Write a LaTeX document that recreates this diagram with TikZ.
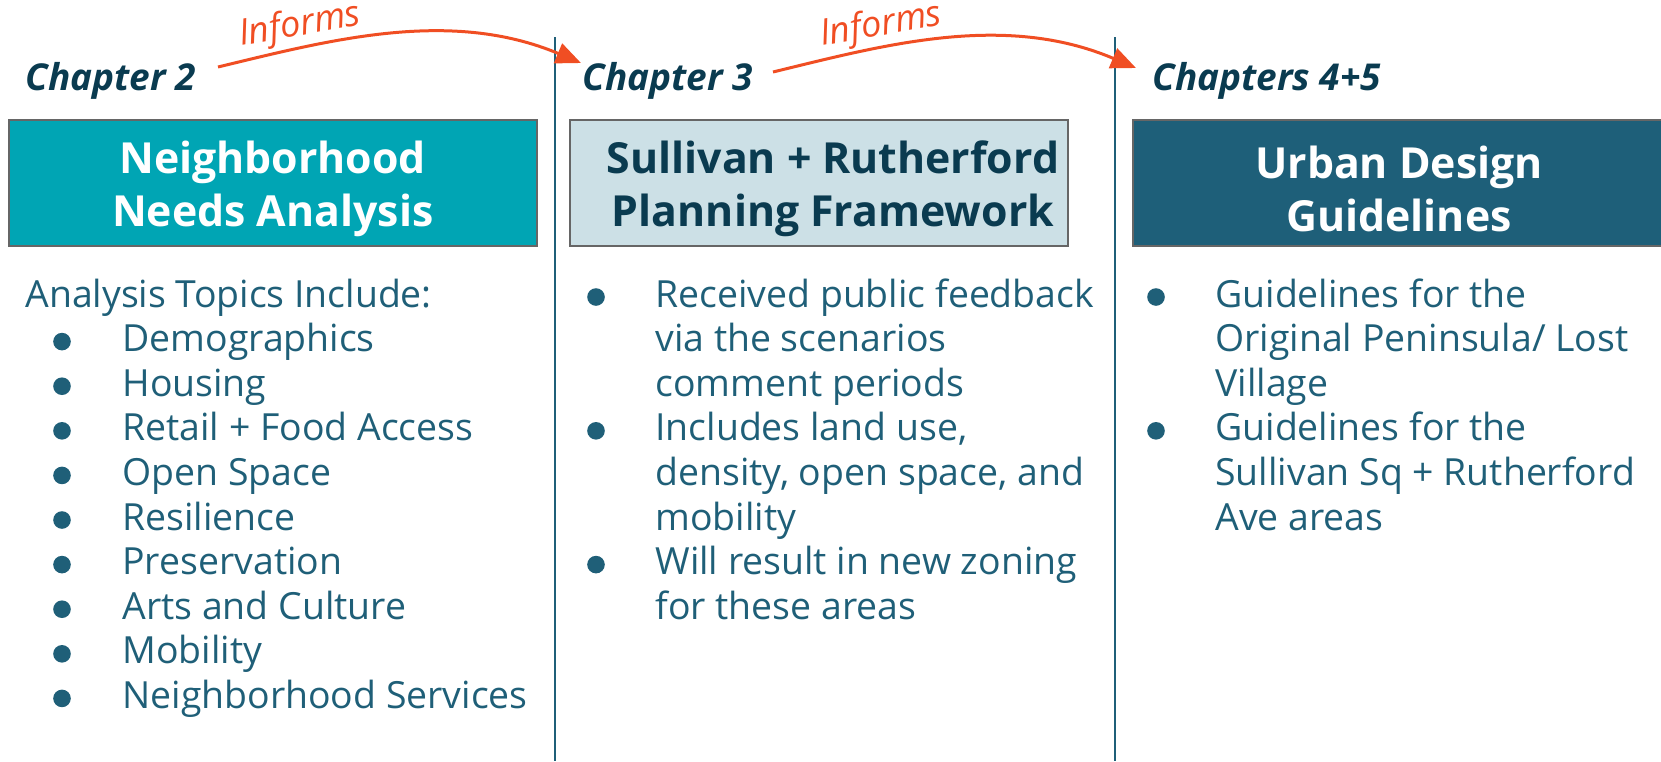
\documentclass[tikz,border=0pt]{standalone}
\usepackage{fontspec}
\setmainfont{Open Sans}
\usepackage{tikz}
\usetikzlibrary{arrows.meta}
\definecolor{needsfill}{HTML}{00A5B4}
\definecolor{frameworkfill}{HTML}{CCE0E6}
\definecolor{guidefill}{HTML}{1E5F79}
\definecolor{headcol}{HTML}{0A3B50}
\definecolor{bodycol}{HTML}{1F5F78}
\definecolor{informcol}{HTML}{F04E23}
\definecolor{boxedge}{HTML}{666666}

\begin{document}
\begin{tikzpicture}[x=0.5pt,y=-0.5pt,
	chapterhead/.style={anchor=base west, inner sep=0pt, text=headcol, font=\fontsize{18.5}{21}\selectfont\bfseries\itshape},
	titlebox/.style={draw=boxedge, line width=1pt, inner sep=0pt, minimum height=63pt},
	titletext/.style={align=center, inner sep=0pt, yshift=-3pt, font=\fontsize{21.4}{26.5}\selectfont\bfseries},
	bodytext/.style={anchor=base west, inner sep=0pt, text=bodycol, font=\fontsize{18.7}{22}\selectfont},
	informs/.style={text=informcol, rotate=10, inner sep=0pt, font=\fontsize{18}{21}\selectfont\itshape},
	infarrow/.style={draw=informcol, line width=1.5pt, -{Triangle[length=12.5pt, width=10.5pt]}},
	divider/.style={draw=bodycol, line width=1pt}]
	\useasboundingbox (0,0) rectangle (1661,761);

	% column dividers
	\draw[divider] (555,37) -- (555,761);
	\draw[divider] (1115,37) -- (1115,761);

	% chapter headings
	\node[chapterhead] (ch2) at (25,90) {Chapter 2};
	\node[chapterhead] (ch3) at (582,90) {Chapter 3};
	\node[chapterhead] (ch45) at (1152,90) {Chapters 4+5};

	% title boxes
	\node[titlebox, fill=needsfill, minimum width=264.25pt] (needs) at (272.75,183) {};
	\node[titlebox, fill=frameworkfill, minimum width=249pt] (framework) at (819,183) {};
	\node[titlebox, fill=guidefill, minimum width=266pt] (guidelines) at (1399,183) {};
	\node[titletext, text=white] (needstitle) at (needs.center) {Neighborhood\\Needs Analysis};
	\node[titletext, text=headcol, xshift=7pt] (frameworktitle) at (framework.center) {Sullivan + Rutherford\\Planning Framework};
	\node[titletext, text=white] (guidetitle) at (guidelines.center) {Urban Design\\Guidelines};

	% informs arrows
	\coordinate (infAfrom) at (218,67);
	\coordinate (infAto) at (581,63);
	\coordinate (infBfrom) at (773,72);
	\coordinate (infBto) at (1136,68);
	\draw[infarrow] (infAfrom) .. controls (330,40) and (450,8) .. (infAto);
	\draw[infarrow] (infBfrom) .. controls (884,45) and (1004,12) .. (infBto);
	\node[informs] (infAtext) at (300,26) {Informs};
	\node[informs] (infBtext) at (881,26) {Informs};

	% chapter 2 topics
	\node[bodytext] (topics) at (25,307) {Analysis Topics Include:};
	\foreach \row/\topic in {1/Demographics, 2/Housing, 3/Retail + Food Access, 4/Open Space, 5/Resilience, 6/Preservation, 7/Arts and Culture, 8/Mobility, 9/Neighborhood Services}
	{
		\fill[bodycol] (62,307+44.6*\row-10) circle (4.4pt);
		\node[bodytext] (topic\row) at (122,307+44.6*\row) {\topic};
	}

	% chapter 3 notes
	\foreach \row/\dot/\line in {0/1/Received public feedback, 1/0/via the scenarios, 2/0/comment periods, 3/1/{Includes land use,}, 4/0/{density, open space, and}, 5/0/mobility, 6/1/Will result in new zoning, 7/0/for these areas}
	{
		\ifnum\dot=1 \fill[bodycol] (596,307+44.6*\row-10) circle (4.4pt); \fi
		\node[bodytext] (frame\row) at (655,307+44.6*\row) {\line};
	}

	% chapters 4+5 notes
	\foreach \row/\dot/\line in {0/1/Guidelines for the, 1/0/{Original Peninsula/ Lost}, 2/0/Village, 3/1/Guidelines for the, 4/0/Sullivan Sq + Rutherford, 5/0/Ave areas}
	{
		\ifnum\dot=1 \fill[bodycol] (1156,307+44.6*\row-10) circle (4.4pt); \fi
		\node[bodytext] (guide\row) at (1215,307+44.6*\row) {\line};
	}
\end{tikzpicture}
\end{document}
